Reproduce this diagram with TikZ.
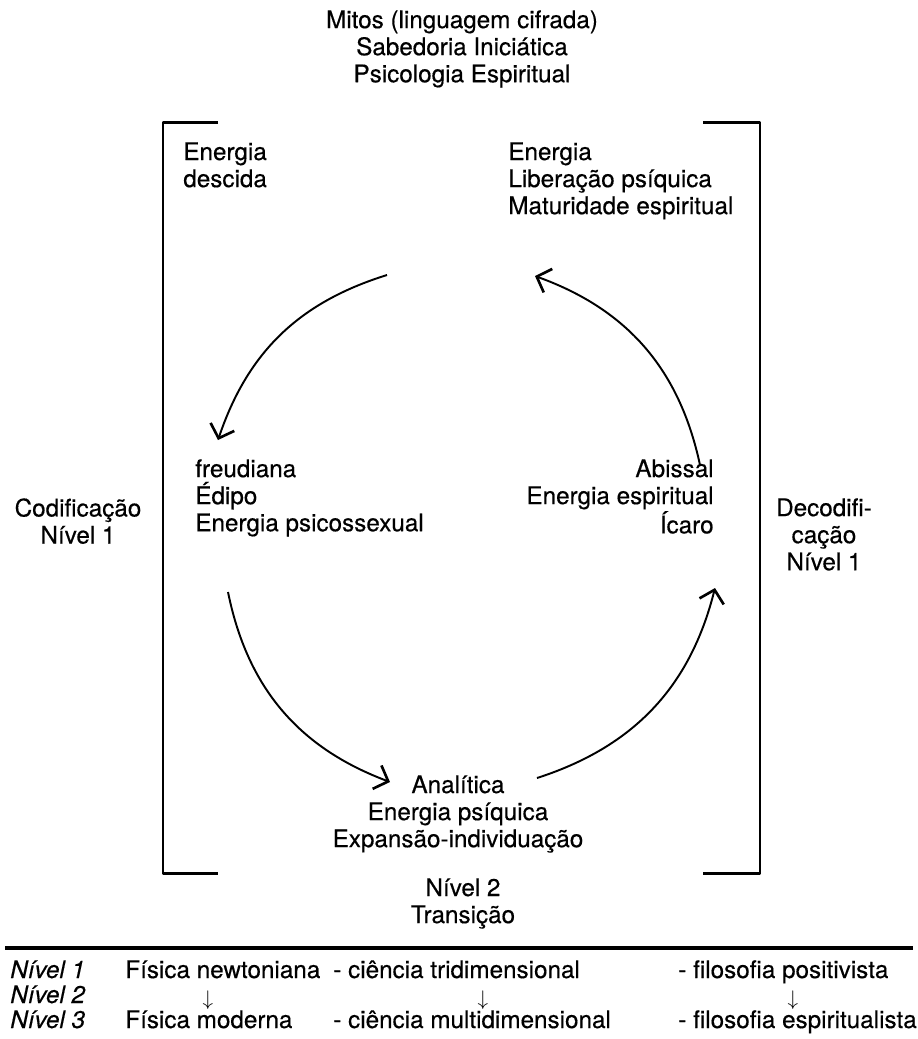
\documentclass[tikz,border=0pt]{standalone}
\usepackage{fontspec}
\setmainfont{TeX Gyre Heros}[FakeBold=0.4]
\usetikzlibrary{positioning,arrows.meta}

\begin{document}
\begin{tikzpicture}[
    x=0.02cm, y=0.02cm,
    txt/.style={font=\fontsize{13.8}{15.4}\selectfont, inner sep=0pt},
    lvl/.style={txt, font=\fontsize{13.8}{15.4}\selectfont\itshape, anchor=base west},
    cell/.style={txt, anchor=base west},
    down/.style={inner sep=0pt, font=\fontsize{11.5}{13}\selectfont, anchor=base},
    bracket/.style={line width=1.7pt, line join=round},
    cyc/.style={line width=1.1pt, -{Straight Barb[length=2.4mm,width=5mm,line width=1.5pt]}}
]
\useasboundingbox (0,0) rectangle (918,-1039);

% titulo
\node[txt, align=center, anchor=north] (mitos) at (462,-10) {Mitos (linguagem cifrada)\\Sabedoria Iniciática\\Psicologia Espiritual};

% colchetes
\draw[bracket] (218,-122) -- (163,-122) -- (163,-873) -- (218,-873);
\draw[bracket] (703,-122) -- (760,-122) -- (760,-873) -- (703,-873);

% textos do ciclo
\node[txt, align=left, anchor=north west] (descida) at (183,-142) {Energia\\descida};
\node[txt, align=left, anchor=north west] (liberacao) at (508,-142) {Energia\\Liberação psíquica\\Maturidade espiritual};
\node[txt, align=left, anchor=north west] (freud) at (195,-459) {freudiana\\Édipo\\Energia psicossexual};
\node[txt, align=right, anchor=north east] (abissal) at (714,-459) {Abissal\\Energia espiritual\\Ícaro};
\node[txt, align=center, anchor=north] (analitica) at (458,-775) {Analítica\\Energia psíquica\\Expansão-individuação};
\node[txt, align=center, anchor=north] (codif) at (78,-498) {Codificação\\Nível 1};
\node[txt, align=center, anchor=north] (decodif) at (824,-498) {Decodifi-\\cação\\Nível 1};
\node[txt, align=center, anchor=north] (transicao) at (463,-878) {Nível 2\\Transição};

% setas do ciclo
\coordinate (a1) at (387,-275);
\coordinate (b1) at (218,-440);
\coordinate (a2) at (228,-592);
\coordinate (b2) at (390,-782);
\coordinate (a3) at (537,-778);
\coordinate (b3) at (715,-588);
\coordinate (a4) at (700,-465);
\coordinate (b4) at (535,-276);
\draw[cyc] (a1) to[bend right=27] (b1);
\draw[cyc] (a2) to[bend right=29] (b2);
\draw[cyc] (a3) to[bend right=29] (b3);
\draw[cyc] (a4) to[bend right=29] (b4);

% tabela
\coordinate (rl) at (5,-948);
\coordinate (rr) at (913,-948);
\draw[line width=2.2pt] (rl) -- (rr);

\node[lvl] (n1) at (10,-978) {Nível 1};
\node[lvl] (n2) at (10,-1003) {Nível 2};
\node[lvl] (n3) at (10,-1028) {Nível 3};

\node[cell] (fisnewt) at (125,-978) {Física newtoniana};
\node[cell] (tridim) at (333,-978) {- ciência tridimensional};
\node[cell] (posit) at (678,-978) {- filosofia positivista};

\node[down] (d1) at (208,-1005) {$\downarrow$};
\node[down] (d2) at (483,-1005) {$\downarrow$};
\node[down] (d3) at (793,-1005) {$\downarrow$};

\node[cell] (fismod) at (125,-1028) {Física moderna};
\node[cell] (multidim) at (333,-1028) {- ciência multidimensional};
\node[cell] (espirit) at (678,-1028) {- filosofia espiritualista};
\end{tikzpicture}
\end{document}
